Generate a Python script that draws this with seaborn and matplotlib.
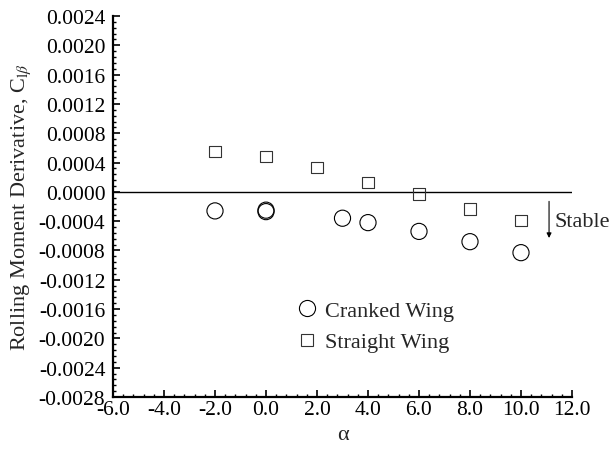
import numpy as np
import pandas as pd
import seaborn as sns
import matplotlib
matplotlib.use("Agg")
import matplotlib.pyplot as plt
from matplotlib.ticker import MultipleLocator, FormatStrFormatter
from matplotlib.lines import Line2D

# ---- data ----
cranked_alpha = [-2, 0, 0, 3, 4, 6, 8, 10]
cranked_clb = [-0.00026, -0.00025, -0.00027, -0.00036, -0.00042, -0.00054, -0.00068, -0.00083]
straight_alpha = [-2, 0, 2, 4, 6, 8, 10]
straight_clb = [0.00055, 0.00048, 0.00033, 0.00013, -0.00003, -0.00023, -0.00039]
series_names = ["Cranked Wing", "Straight Wing"]

sns.set_style("ticks")
plt.rcParams['font.family'] = ['Liberation Serif', 'DejaVu Serif']
plt.rcParams['mathtext.fontset'] = 'stix'
plt.rcParams['axes.unicode_minus'] = False

fig = plt.figure(figsize=(6.12, 4.56), dpi=100)
ax = fig.add_axes([113/612, 58/456, 459/612, 381/456])

df_c = pd.DataFrame({"alpha": cranked_alpha, "clb": cranked_clb})
df_s = pd.DataFrame({"alpha": straight_alpha, "clb": straight_clb})

sns.scatterplot(data=df_c, x="alpha", y="clb", marker="o", s=135,
                facecolor="none", edgecolor="black", linewidth=0.8, ax=ax, zorder=3)
sns.scatterplot(data=df_s, x="alpha", y="clb", marker="s", s=70,
                facecolor="none", edgecolor="#333333", linewidth=0.8, ax=ax, zorder=3)

ax.axhline(0, color="black", lw=1.0, zorder=2)

ax.set_xlim(-6, 12)
ax.set_ylim(-0.0028, 0.0024)
ax.xaxis.set_major_locator(MultipleLocator(2))
ax.xaxis.set_minor_locator(MultipleLocator(0.4))
ax.yaxis.set_major_locator(MultipleLocator(0.0004))
ax.yaxis.set_minor_locator(MultipleLocator(0.00008))
ax.xaxis.set_major_formatter(FormatStrFormatter('%.1f'))
ax.yaxis.set_major_formatter(FormatStrFormatter('%.4f'))

ax.tick_params(which='major', direction='in', length=5, width=1.2, labelsize=15.5,
               color='black', labelcolor='black')
ax.tick_params(axis='y', which='major', pad=5.5)
ax.tick_params(axis='x', which='major', pad=2.5)
ax.tick_params(which='minor', direction='in', length=2.5, width=1.0, color='black')
for side in ['top', 'right']:
    ax.spines[side].set_visible(False)
for side in ['left', 'bottom']:
    ax.spines[side].set_linewidth(1.6)
    ax.spines[side].set_color('black')

ax.set_xlabel("α", fontsize=16, labelpad=4)
ax.set_ylabel(r"Rolling Moment Derivative, C$_{\mathrm{l}\beta}$", fontsize=16, labelpad=4)

# Stable arrow
ax.annotate("", xy=(11.1, -0.00063), xytext=(11.1, -0.00013),
            arrowprops=dict(arrowstyle='-|>', lw=0.8, color='black', mutation_scale=7,
                            shrinkA=0, shrinkB=0))
ax.text(11.3, -0.0004, "Stable", fontsize=16, va='center', ha='left')

handles = [
    Line2D([], [], marker='o', linestyle='none', markersize=11.6, markerfacecolor='none',
           markeredgecolor='black', markeredgewidth=0.8),
    Line2D([], [], marker='s', linestyle='none', markersize=8.3, markerfacecolor='none',
           markeredgecolor='#333333', markeredgewidth=0.8),
]
ax.legend(handles, series_names, loc='upper left', bbox_to_anchor=(0.398, 0.254),
          frameon=False, fontsize=16, handlelength=1.0, handletextpad=0.3,
          borderpad=0, borderaxespad=0, labelspacing=0.5)

fig.savefig("out.png", dpi=100)
